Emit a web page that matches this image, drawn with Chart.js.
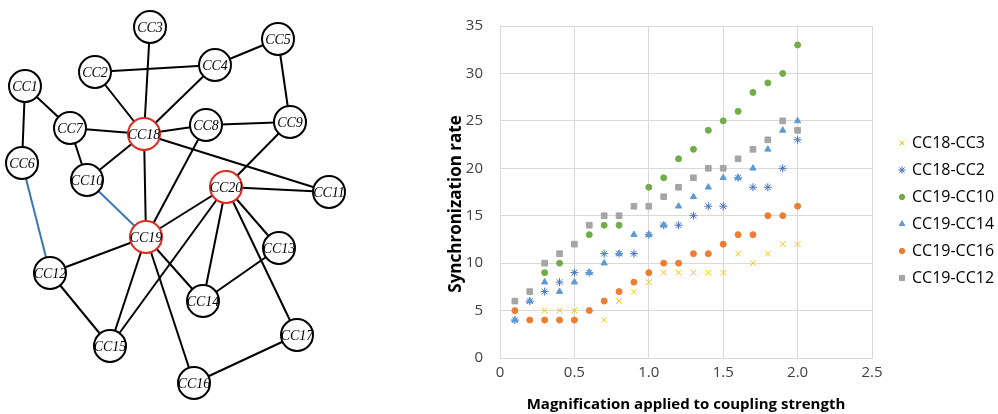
<!DOCTYPE html>
<html>
<head>
<meta charset="utf-8">
<script src="https://cdn.jsdelivr.net/npm/chart.js@4.4.0/dist/chart.umd.min.js"></script>
<style>
    body { margin: 0; background: #fff; }
    #net { position: absolute; left: 0; top: 0; }
    #sync { position: absolute; left: 420px; top: 0; }
</style>
</head>
<body>
<canvas id="net" width="420" height="414"></canvas>
<canvas id="sync" width="578" height="414"></canvas>
<script>
// Network: node centres in the frame of the left drawing
const nodeNames = ['CC1', 'CC2', 'CC3', 'CC4', 'CC5', 'CC6', 'CC7', 'CC8', 'CC9', 'CC10',
                   'CC11', 'CC12', 'CC13', 'CC14', 'CC15', 'CC16', 'CC17', 'CC18', 'CC19', 'CC20'];
const nodeX = [25, 95, 150, 215, 278, 22, 70, 206, 290, 87, 329, 50, 279, 203, 110, 194, 297, 144, 146, 226];
const nodeY = [86, 72, 27, 65, 39, 163, 128, 125, 122, 180, 192, 273, 248, 301, 346, 383, 335, 134, 237, 187];
const hubNodes = ['CC18', 'CC19', 'CC20'];

const blackEdges = [
    ['CC1', 'CC6'], ['CC1', 'CC7'], ['CC7', 'CC18'], ['CC7', 'CC10'], ['CC10', 'CC18'],
    ['CC2', 'CC18'], ['CC2', 'CC4'], ['CC3', 'CC18'], ['CC4', 'CC18'], ['CC4', 'CC5'],
    ['CC5', 'CC9'], ['CC8', 'CC9'], ['CC8', 'CC18'], ['CC9', 'CC20'], ['CC18', 'CC11'],
    ['CC20', 'CC11'], ['CC18', 'CC19'], ['CC8', 'CC19'], ['CC19', 'CC20'], ['CC20', 'CC15'],
    ['CC20', 'CC14'], ['CC20', 'CC13'], ['CC20', 'CC17'], ['CC19', 'CC12'], ['CC19', 'CC15'],
    ['CC19', 'CC16'], ['CC19', 'CC14'], ['CC12', 'CC15'], ['CC14', 'CC13'], ['CC16', 'CC17']
];
const blueEdges = [['CC6', 'CC12'], ['CC10', 'CC19']];

// Synchronization rate vs coupling magnification
const couplingX = [0.1, 0.2, 0.3, 0.4, 0.5, 0.6, 0.7, 0.8, 0.9, 1.0,
                   1.1, 1.2, 1.3, 1.4, 1.5, 1.6, 1.7, 1.8, 1.9, 2.0];
const seriesNames = ['CC18-CC3', 'CC18-CC2', 'CC19-CC10', 'CC19-CC14', 'CC19-CC16', 'CC19-CC12'];
const cc18cc3  = [null, null, 5, 5, 5, null, 4, 6, 7, 8, 9, 9, 9, 9, 9, 11, 10, 11, 12, 12];
const cc18cc2  = [4, 6, 7, 8, 9, 9, 11, 11, 11, 13, 14, 14, 15, 16, 16, 19, 18, 18, 20, 23];
const cc19cc10 = [null, null, 9, 10, null, 13, 14, 14, null, 18, 19, 21, 22, 24, 25, 26, 28, 29, 30, 33];
const cc19cc14 = [4, 6, 8, 7, 8, 9, 10, 11, 13, 13, 14, 16, 17, 18, 19, 19, 20, 22, 24, 25];
const cc19cc16 = [5, 4, 4, 4, 4, 5, 6, 7, 8, 9, 10, 10, 11, 11, 12, 13, 13, 15, 15, 16];
const cc19cc12 = [6, 7, 10, 11, 12, 14, 15, 15, 16, 16, 17, 18, 19, 20, 20, 21, 22, 23, 25, 24];
const yTicks = [0, 5, 10, 15, 20, 25, 30, 35];
const xTicks = [0, 0.5, 1, 1.5, 2, 2.5];

// ---------- network drawing ----------
function nodePoint(name) {
    const i = nodeNames.indexOf(name);
    return { x: nodeX[i], y: nodeY[i] };
}

function edgeDataset(pair, color) {
    return {
        data: [nodePoint(pair[0]), nodePoint(pair[1])],
        showLine: true,
        borderColor: color,
        borderWidth: 2,
        pointRadius: 0,
        order: 1
    };
}

const netDatasets = [];
blackEdges.forEach(e => netDatasets.push(edgeDataset(e, '#000000')));
blueEdges.forEach(e => netDatasets.push(edgeDataset(e, '#3A78B0')));
netDatasets.push({
    data: nodeNames.map((n, i) => ({ x: nodeX[i], y: nodeY[i] })),
    pointRadius: 16,
    pointBackgroundColor: '#ffffff',
    pointBorderColor: nodeNames.map(n => hubNodes.includes(n) ? '#E02A20' : '#000000'),
    pointBorderWidth: 2,
    order: 0
});

const nodeLabels = {
    id: 'nodeLabels',
    afterDatasetsDraw(chart) {
        const meta = chart.getDatasetMeta(chart.data.datasets.length - 1);
        const ctx = chart.ctx;
        ctx.save();
        ctx.font = 'italic 14px "Liberation Serif"';
        ctx.fillStyle = '#000';
        ctx.textAlign = 'center';
        ctx.textBaseline = 'middle';
        meta.data.forEach((pt, i) => ctx.fillText(nodeNames[i], pt.x, pt.y + 1));
        ctx.restore();
    }
};

new Chart(document.getElementById('net'), {
    type: 'scatter',
    data: { datasets: netDatasets },
    options: {
        responsive: false,
        animation: false,
        clip: false,
        layout: { padding: 0, autoPadding: false },
        scales: {
            x: { display: false, min: 0, max: 420 },
            y: { display: false, min: 0, max: 414, reverse: true }
        },
        plugins: { legend: { display: false }, tooltip: { enabled: false } }
    },
    plugins: [nodeLabels]
});

// ---------- scatter chart ----------
const seriesValues = [cc18cc3, cc18cc2, cc19cc10, cc19cc14, cc19cc16, cc19cc12];
const seriesColors = ['#FFC000', '#4472C4', '#70AD47', '#5B9BD5', '#ED7D31', '#A5A5A5'];
const seriesStyles = ['crossRot', 'star', 'circle', 'triangle', 'circle', 'rect'];
const seriesRadius = [4, 4, 3, 3.6, 3, 4];

const syncDatasets = seriesNames.map((name, s) => ({
    label: name,
    data: couplingX.map((x, i) => ({ x: x, y: seriesValues[s][i] })).filter(p => p.y !== null),
    pointStyle: seriesStyles[s],
    pointRadius: seriesRadius[s],
    pointBorderWidth: 1,
    pointBorderColor: seriesColors[s],
    pointBackgroundColor: seriesColors[s],
    showLine: false,
    order: seriesNames.length - s
}));

// drawPoint reads ctx fill/stroke, so set the series colour first
function drawLegendPoint(ctx, s, x, y) {
    ctx.save();
    ctx.strokeStyle = seriesColors[s];
    ctx.fillStyle = seriesColors[s];
    ctx.lineWidth = 1;
    Chart.helpers.drawPoint(ctx, { pointStyle: seriesStyles[s], radius: seriesRadius[s] * 0.9, borderWidth: 1 }, x, y);
    ctx.restore();
}

// y title sits a bit below the axis middle in the original, and legend sits right of the plot
const sideLegend = {
    id: 'sideLegend',
    afterDraw(chart) {
        const ctx = chart.ctx;
        const area = chart.chartArea;
        ctx.save();
        ctx.translate(area.left - 44, 204);
        ctx.rotate(-Math.PI / 2);
        ctx.font = 'bold 17px "Open Sans"';
        ctx.fillStyle = '#000';
        ctx.textAlign = 'center';
        ctx.textBaseline = 'middle';
        ctx.fillText('Synchronization rate', 0, 0);
        ctx.restore();

        ctx.save();
        ctx.font = '16px "Open Sans"';
        ctx.textBaseline = 'middle';
        seriesNames.forEach((name, s) => {
            const y = 143 + s * 27;
            const mx = area.right + 30;
            drawLegendPoint(ctx, s, mx, y);
            ctx.fillStyle = '#000';
            ctx.fillText(name, mx + 10, y);
        });
        ctx.restore();
    }
};

new Chart(document.getElementById('sync'), {
    type: 'scatter',
    data: { datasets: syncDatasets },
    options: {
        responsive: false,
        animation: false,
        layout: { padding: { left: 27, right: 126, top: 10, bottom: 0 }, autoPadding: false },
        scales: {
            x: {
                min: 0, max: 2.5,
                afterBuildTicks: s => { s.ticks = xTicks.map(v => ({ value: v })); },
                afterFit: s => { s.height = 56; },
                ticks: { padding: 6, color: '#404040', font: { family: 'Open Sans', size: 15 } },
                grid: { color: '#d9d9d9', drawTicks: false },
                border: { color: '#d9d9d9' },
                title: {
                    display: true,
                    text: 'Magnification applied to coupling strength',
                    color: '#000',
                    font: { family: 'Open Sans', size: 15, weight: 'bold' },
                    padding: { top: 0, bottom: 0 }
                }
            },
            y: {
                min: 0, max: 35,
                afterBuildTicks: s => { s.ticks = yTicks.map(v => ({ value: v })); },
                afterFit: s => { s.width = 53; },
                ticks: { padding: 17, color: '#404040', font: { family: 'Open Sans', size: 15 } },
                grid: { color: '#d9d9d9', drawTicks: false },
                border: { color: '#d9d9d9' }
            }
        },
        plugins: { legend: { display: false }, tooltip: { enabled: false } }
    },
    plugins: [sideLegend]
});
</script>
</body>
</html>
